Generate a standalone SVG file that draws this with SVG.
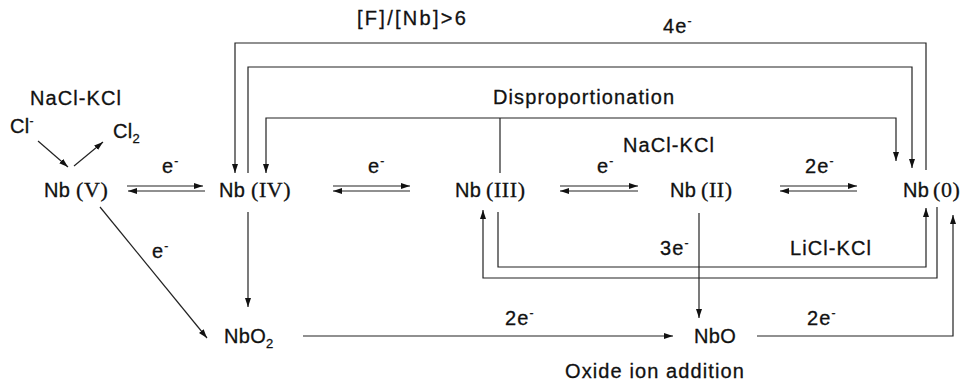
<svg xmlns="http://www.w3.org/2000/svg" width="964" height="385" viewBox="0 0 964 385">
<style>
.t{font-family:"Liberation Sans",Arial,sans-serif;font-size:20px;letter-spacing:1.1px;fill:#111;stroke:#111;stroke-width:0.3}
.n{font-family:"Liberation Sans",Arial,sans-serif;font-size:20px;letter-spacing:0.3px;fill:#111;stroke:#111;stroke-width:0.3}
.r{font-family:"Liberation Serif","Times New Roman",serif;font-size:22px;letter-spacing:0.6px}
.sup{font-size:12px}
.sub{font-size:13px}
.c{fill:none;stroke:#222;stroke-width:1.2}
.a{marker-end:url(#ah)}
</style>
<defs>
<marker id="ah" markerUnits="userSpaceOnUse" markerWidth="10" markerHeight="7" refX="9" refY="3" orient="auto">
<path d="M0,0 L9,3 L0,6 z" fill="#111"/>
</marker>
</defs>
<rect width="964" height="385" fill="#fff"/>

<g id="connectors">
<line class="c a" x1="38" y1="141" x2="68" y2="167"/>
<line class="c a" x1="74" y1="166" x2="103" y2="142"/>
<line class="c a" x1="127" y1="186" x2="203" y2="186"/>
<line class="c a" x1="205" y1="191" x2="128" y2="191"/>
<line class="c a" x1="333" y1="186" x2="410" y2="186"/>
<line class="c a" x1="410" y1="191" x2="333" y2="191"/>
<line class="c a" x1="560" y1="186" x2="638" y2="186"/>
<line class="c a" x1="638" y1="191" x2="560" y2="191"/>
<line class="c a" x1="780" y1="186" x2="857" y2="186"/>
<line class="c a" x1="857" y1="191" x2="780" y2="191"/>
<polyline class="c a" points="926,170 926,43 235,43 235,173"/>
<polyline class="c a" points="248,173 248,67 912,67 912,168"/>
<line class="c" x1="500" y1="173" x2="500" y2="118"/>
<polyline class="c a" points="500,118 266,118 266,173"/>
<polyline class="c a" points="500,118 896,118 896,161"/>
<polyline class="c a" points="498,212 498,267 926,267 926,208"/>
<polyline class="c a" points="937,207 937,278 483,278 483,210"/>
<line class="c a" x1="699" y1="213" x2="699" y2="318"/>
<line class="c a" x1="248" y1="212" x2="248" y2="307"/>
<line class="c a" x1="100" y1="207" x2="207" y2="338"/>
<line class="c a" x1="303" y1="336" x2="673" y2="336"/>
<polyline class="c a" points="757,336 953,336 953,215"/>
</g>

<g id="nbV"><text class="n" x="44" y="197">Nb<tspan class="r" x="76">(V)</tspan></text></g>
<g id="nbIV"><text class="n" x="219" y="197">Nb<tspan class="r" x="251">(IV)</tspan></text></g>
<g id="nbIII"><text class="n" x="455" y="197">Nb<tspan class="r" x="486">(III)</tspan></text></g>
<g id="nbII"><text class="n" x="670" y="197">Nb<tspan class="r" x="701">(II)</tspan></text></g>
<g id="nb0"><text class="n" x="903" y="197">Nb<tspan class="r" x="933">(0)</tspan></text></g>
<g id="nbo2"><text class="n" x="224" y="343">NbO<tspan class="sub" dy="5">2</tspan></text></g>
<g id="nbo"><text class="n" x="694" y="343">NbO</text></g>
<g id="cl"><text class="n" x="10" y="133">Cl<tspan class="sup" dy="-8">-</tspan></text></g>
<g id="cl2"><text class="n" x="113" y="138">Cl<tspan class="sub" dy="5">2</tspan></text></g>

<g id="labels">
<text class="t" x="30" y="105">NaCl-KCl</text>
<text class="t" x="623" y="152">NaCl-KCl</text>
<text class="t" x="493" y="104">Disproportionation</text>
<text class="t" x="357" y="25" textLength="110" lengthAdjust="spacing">[F]/[Nb]&gt;6</text>
<text class="t" x="565" y="378">Oxide ion addition</text>
<text class="t" x="790" y="255">LiCl-KCl</text>
<text class="t" x="162" y="173">e<tspan class="sup" dy="-8">-</tspan></text>
<text class="t" x="368" y="173">e<tspan class="sup" dy="-8">-</tspan></text>
<text class="t" x="597" y="173">e<tspan class="sup" dy="-8">-</tspan></text>
<text class="t" x="805" y="173">2e<tspan class="sup" dy="-8">-</tspan></text>
<text class="t" x="152" y="258">e<tspan class="sup" dy="-8">-</tspan></text>
<text class="t" x="663" y="33">4e<tspan class="sup" dy="-8">-</tspan></text>
<text class="t" x="660" y="255">3e<tspan class="sup" dy="-8">-</tspan></text>
<text class="t" x="505" y="325">2e<tspan class="sup" dy="-8">-</tspan></text>
<text class="t" x="807" y="325">2e<tspan class="sup" dy="-8">-</tspan></text>
</g>
</svg>
